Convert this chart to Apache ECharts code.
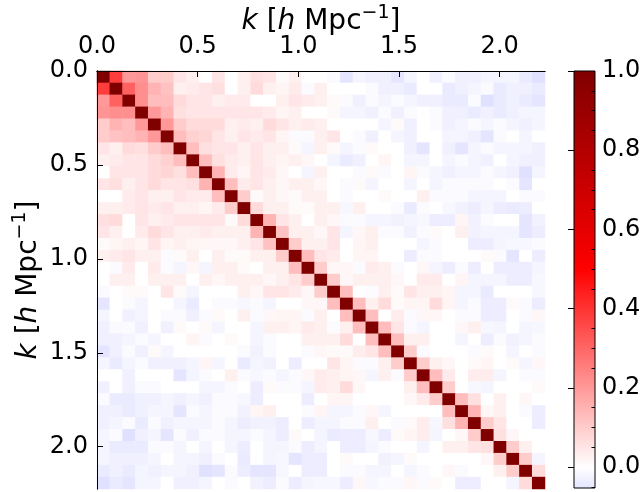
<!DOCTYPE html>
<html>
<head>
<meta charset="utf-8">
<script src="https://cdn.jsdelivr.net/npm/echarts@6/dist/echarts.min.js"></script>
<style>
  html, body { margin: 0; padding: 0; background: #fff; }
  #main { width: 642px; height: 492px; }
</style>
</head>
<body>
<div id="main"></div>
<script>
// 相关系数矩阵 (35 x 35), k 从 0 到 ~2.2

var nBins = 35;
var kMax = 2.225;
var kTicks = [0, 0.5, 1.0, 1.5, 2.0];
var cbMin = -0.053;
var cbTicks = [0, 0.2, 0.4, 0.6, 0.8, 1.0];
var cbMinorTicks = [-0.05, 0.05, 0.1, 0.15, 0.25, 0.3, 0.35, 0.45, 0.5, 0.55, 0.65, 0.7, 0.75, 0.85, 0.9, 0.95];

// 上三角 (对角线右边的值), 第 i 行 = 列 i+1 .. 34
var corrUpper = [
  [0.38, 0.2, 0.21, 0.1, 0.1, 0.05, 0.03, 0, 0.05, 0, 0.03, 0.06, 0.05, 0.01, 0.03, 0, 0, -0.01, -0.05, -0.02, -0.03, -0.03, -0.05, -0.02, 0, -0.03, -0.01, -0.03, -0.03, -0.02, -0.02, -0.02, -0.04, -0.06],
  [0.31, 0.22, 0.15, 0.12, 0.03, 0.04, 0.05, 0.06, 0, 0.03, 0.07, 0.03, 0.02, 0.04, -0.01, 0.03, 0, 0, 0, -0.01, -0.03, -0.03, -0.04, 0, 0, -0.04, -0.03, -0.02, -0.01, -0.04, -0.03, -0.03, -0.04],
  [0.22, 0.13, 0.13, 0.07, 0.05, 0.05, 0.03, 0.04, 0.04, 0, 0, 0.03, 0.05, 0.04, 0.03, 0.01, -0.01, -0.03, -0.01, -0.02, -0.01, -0.02, -0.03, -0.03, -0.04, -0.04, -0.01, -0.06, -0.04, -0.03, -0.04, -0.05],
  [0.2, 0.15, 0.06, 0.05, 0.05, 0.05, 0.05, 0.05, 0.05, 0.04, 0.02, 0.03, 0, 0, 0.01, -0.02, -0.02, -0.03, -0.01, -0.03, -0.01, 0, -0.01, -0.03, -0.03, -0.04, -0.03, -0.04, -0.03, -0.02, -0.02],
  [0.2, 0.1, 0.07, 0.07, 0.07, 0.03, 0.04, 0.03, 0.07, 0.05, 0.03, 0.04, 0.03, 0, 0, 0, 0, -0.02, 0.01, -0.03, 0, -0.01, -0.03, -0.02, -0.01, -0.02, -0.01, -0.02, -0.03, -0.02],
  [0.13, 0.09, 0.08, 0.05, 0.03, 0.05, 0.04, 0.05, 0.02, -0.01, -0.01, 0.03, 0.05, 0, -0.01, -0.03, 0, -0.02, -0.03, 0, 0, -0.02, -0.02, -0.03, -0.05, -0.01, 0, -0.02, 0],
  [0.13, 0.06, 0.05, 0.05, 0.03, 0.05, 0.03, 0.03, 0.01, -0.02, 0.03, 0.01, -0.02, -0.01, 0.01, 0, 0, -0.03, -0.05, 0, -0.03, -0.05, -0.02, -0.01, -0.02, -0.02, -0.02, -0.03],
  [0.13, 0.06, 0.04, 0.03, 0.05, 0.03, 0.02, 0.03, 0.015, 0, -0.02, -0.04, -0.03, 0, 0.02, 0, -0.02, -0.02, 0, -0.02, -0.01, -0.02, -0.03, 0, -0.02, -0.03, -0.03],
  [0.15, 0.04, 0.02, 0.05, 0.04, 0.015, 0, -0.02, 0.03, 0, 0, -0.01, 0.01, -0.01, 0, 0.02, -0.01, -0.02, -0.03, -0.02, -0.02, -0.01, -0.02, -0.03, -0.06, -0.02],
  [0.13, 0.04, 0.05, 0.03, 0.015, 0.03, 0.03, 0.015, 0, -0.01, 0.01, -0.02, 0, 0, -0.02, 0, -0.02, -0.01, -0.01, -0.01, -0.01, 0, -0.01, -0.05, 0],
  [0.1, 0.01, 0.03, 0.015, 0.01, 0.03, 0.03, 0, -0.01, 0, 0, 0.01, 0, 0, 0.03, -0.01, -0.01, -0.01, -0.02, -0.02, -0.02, 0, -0.01, -0.01],
  [0.07, 0.03, 0.03, 0.01, 0.01, 0.03, 0.03, -0.015, 0.03, 0, 0, -0.01, -0.04, -0.01, 0, -0.015, -0.025, -0.035, -0.02, -0.035, -0.04, -0.035, 0],
  [0.15, 0.05, 0.03, 0, 0.03, 0.015, -0.01, -0.01, -0.02, -0.02, -0.025, -0.02, -0.015, -0.035, -0.035, 0.02, -0.025, -0.01, 0, 0, -0.05, -0.025],
  [0.12, 0.03, 0.03, 0.015, 0.05, -0.02, 0.015, 0.03, -0.01, -0.01, -0.025, -0.01, 0.01, 0, 0.03, -0.025, -0.02, -0.02, -0.02, -0.05, -0.035],
  [0.1, 0.03, 0.03, 0.05, 0, 0.02, 0.03, 0, 0, 0, -0.02, -0.01, 0, 0, -0.035, -0.035, -0.02, -0.015, -0.015, -0.01],
  [0.13, 0.05, 0.04, 0, 0.02, 0.02, 0, 0, -0.035, -0.01, -0.01, 0, 0, 0, 0.01, -0.01, -0.05, 0, -0.035],
  [0.1, 0.015, 0.015, -0.01, 0.04, 0.03, -0.01, 0, 0.015, -0.02, -0.035, -0.01, -0.035, 0, -0.035, -0.035, -0.035, -0.02],
  [0.1, 0.015, 0.03, 0.03, 0.03, 0.015, 0, 0.04, 0.04, 0, 0.02, -0.02, -0.02, -0.02, -0.035, -0.035, -0.015],
  [0.13, 0, -0.005, 0.03, 0.01, 0.05, 0.03, 0.03, 0.02, -0.02, -0.02, -0.04, 0, 0, 0, -0.015],
  [0.13, 0.03, 0.07, 0.01, 0.02, 0.02, 0.07, 0.02, -0.02, -0.01, -0.035, -0.035, 0.01, -0.01, -0.035],
  [0.13, 0, 0.035, -0.01, 0.015, 0.015, 0, -0.01, -0.01, -0.035, -0.035, 0, -0.01, 0.015],
  [0.13, 0.05, -0.01, -0.02, 0, 0, 0.015, 0.03, -0.015, -0.02, 0, -0.02, -0.015],
  [0.13, 0.03, 0.03, 0, 0, -0.02, 0, -0.035, -0.01, -0.025, -0.02, -0.01],
  [0.1, -0.01, 0, 0, 0, -0.01, 0.01, 0, -0.02, 0, -0.01],
  [0.1, 0.03, 0.015, 0, 0.01, 0.02, 0, 0.01, -0.02, 0.015],
  [0.13, 0.04, 0, 0.035, 0.035, -0.02, 0, -0.01, -0.01],
  [0.1, 0, -0.015, -0.02, 0, 0, 0, 0.01],
  [0.13, 0.06, 0, 0.03, 0, 0.015, 0],
  [0.15, 0.015, 0.03, 0, -0.01, -0.035],
  [0.1, 0.05, 0, 0, -0.035],
  [0.06, 0.015, 0, 0],
  [0.1, 0.03, 0],
  [0.1, -0.02],
  [0.07]
];

// seismic 色图 (-1 .. 1)
var seismicColors = ['#00004d', '#0000ff', '#ffffff', '#ff0000', '#800000'];

function seismicRGB(v) {
  var stops = [[-1, [0, 0, 77]], [-0.5, [0, 0, 255]], [0, [255, 255, 255]], [0.5, [255, 0, 0]], [1, [128, 0, 0]]];
  for (var s = 0; s < stops.length - 1; s++) {
    var a = stops[s], b = stops[s + 1];
    if (v >= a[0] && v <= b[0]) {
      var t = (v - a[0]) / (b[0] - a[0]);
      var c = a[1].map(function (x, n) { return Math.round(x + (b[1][n] - x) * t); });
      return 'rgb(' + c.join(',') + ')';
    }
  }
  return 'rgb(128,0,0)';
}

// 热力图数据, 对称
var heatData = [];
for (var i = 0; i < nBins; i++) {
  heatData.push([i, i, 1]);
  for (var j = i + 1; j < nBins; j++) {
    var v = corrUpper[i][j - i - 1];
    heatData.push([j, i, v]);
    heatData.push([i, j, v]);
  }
}

var binNames = [];
for (var b = 0; b < nBins; b++) binNames.push(String(b));

// 色标的渐变
var cbStops = [1, 0.5, 0, cbMin].map(function (v) {
  return { offset: (1 - v) / (1 - cbMin), color: seismicRGB(v) };
});

var font = 'DejaVu Sans';
var axisName = '{n|}{it|k}{n| [}{it|h}{n| Mpc}{sup|\u22121}{n|]}';
var nameStyle = {
  fontFamily: font,
  fontSize: 28,
  color: '#000',
  rich: {
    n: { fontFamily: font, fontSize: 28, color: '#000', lineHeight: 36 },
    it: { fontFamily: font, fontSize: 28, fontStyle: 'italic', color: '#000', lineHeight: 36 },
    sup: { fontFamily: font, fontSize: 19, color: '#000', verticalAlign: 'top', lineHeight: 18 }
  }
};
var labelStyle = { fontFamily: font, fontSize: 24, color: '#000' };
var blackLine = { lineStyle: { color: '#000', width: 1 } };

var myChart = echarts.init(document.getElementById('main'), null, { renderer: 'canvas' });

var option = {
  backgroundColor: '#fff',
  animation: false,
  grid: [
    { left: 97, top: 71, width: 448, height: 418, outerBoundsMode: 'none', containLabel: false },
    {
      left: 574, top: 71, width: 21, height: 417, outerBoundsMode: 'none', containLabel: false,
      show: true,
      backgroundColor: new echarts.graphic.LinearGradient(0, 0, 0, 1, cbStops),
      borderColor: '#000',
      borderWidth: 1
    }
  ],
  visualMap: {
    type: 'continuous',
    show: false,
    min: -1,
    max: 1,
    seriesIndex: 0,
    inRange: { color: seismicColors }
  },
  xAxis: [
    {
      type: 'category', gridIndex: 0, data: binNames, position: 'bottom', z: 10,
      axisLine: blackLine, axisTick: { show: false }, axisLabel: { show: false }, splitLine: { show: false }
    },
    {
      type: 'value', gridIndex: 0, position: 'top', min: 0, max: kMax, z: 10,
      axisLine: { show: true, lineStyle: { color: '#000', width: 1 } },
      axisTick: { show: true, inside: true, length: 6, lineStyle: { color: '#000' }, customValues: kTicks },
      axisLabel: Object.assign({ margin: 12, customValues: kTicks, hideOverlap: false, formatter: function (v) { return v.toFixed(1); } }, labelStyle),
      splitLine: { show: false },
      name: axisName,
      nameLocation: 'middle',
      nameGap: 31,
      nameMoveOverlap: false,
      nameTextStyle: nameStyle
    },
    { type: 'value', gridIndex: 1, min: 0, max: 1, show: false }
  ],
  yAxis: [
    {
      type: 'category', gridIndex: 0, data: binNames, inverse: true, position: 'right', z: 10,
      axisLine: blackLine, axisTick: { show: false }, axisLabel: { show: false }, splitLine: { show: false }
    },
    {
      type: 'value', gridIndex: 0, position: 'left', inverse: true, min: 0, max: kMax, z: 10,
      axisLine: { show: true, lineStyle: { color: '#000', width: 1 } },
      axisTick: { show: true, inside: true, length: 6, lineStyle: { color: '#000' }, customValues: kTicks },
      axisLabel: Object.assign({
        margin: 9, customValues: kTicks, verticalAlign: 'middle', hideOverlap: false,
        formatter: function (v) { return v.toFixed(1); }
      }, labelStyle),
      splitLine: { show: false },
      name: axisName,
      nameLocation: 'middle',
      nameGap: 50,
      nameMoveOverlap: false,
      nameTextStyle: nameStyle
    },
    {
      type: 'value', gridIndex: 1, position: 'right', min: cbMin, max: 1, z: 10,
      axisLine: { show: false },
      axisTick: { show: true, inside: true, length: 6, lineStyle: { color: '#000' }, customValues: cbTicks },
      axisLabel: Object.assign({ margin: 7, customValues: cbTicks, formatter: function (v) { return v.toFixed(1); } }, labelStyle),
      splitLine: { show: false }
    },
    {
      type: 'value', gridIndex: 1, position: 'right', min: cbMin, max: 1, z: 10,
      axisLine: { show: false },
      axisTick: { show: true, inside: true, length: 3.5, lineStyle: { color: '#000' }, customValues: cbMinorTicks },
      axisLabel: { show: false },
      splitLine: { show: false }
    }
  ],
  series: [
    {
      type: 'heatmap',
      xAxisIndex: 0,
      yAxisIndex: 0,
      data: heatData,
      itemStyle: { borderWidth: 0 },
      emphasis: { disabled: true },
      progressive: 0
    }
  ]
};

myChart.setOption(option);
</script>
</body>
</html>
